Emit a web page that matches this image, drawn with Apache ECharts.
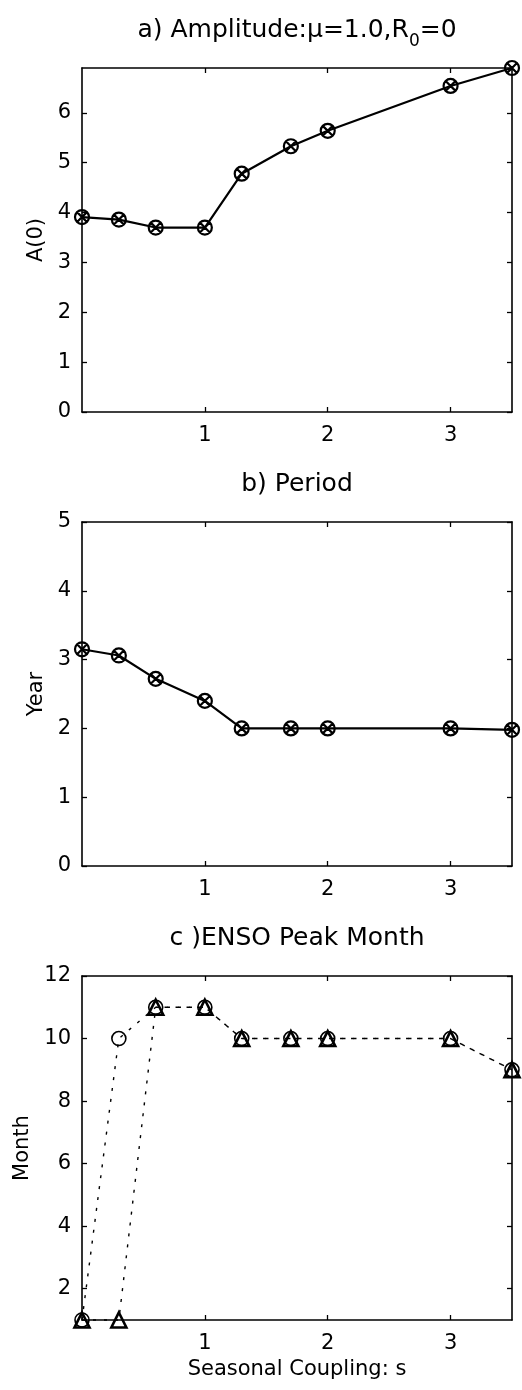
<!DOCTYPE html>
<html>
<head>
<meta charset="utf-8">
<script src="https://cdn.jsdelivr.net/npm/echarts@6/dist/echarts.min.js"></script>
<style>
  html, body { margin: 0; padding: 0; background: #fff; }
  #main { width: 522px; height: 1390px; }
</style>
</head>
<body>
<div id="main"></div>
<script>
// seasonal coupling s (x axis, shared by all three panels)
const sValues = [0, 0.3, 0.6, 1.0, 1.3, 1.7, 2.0, 3.0, 3.5]
// a) amplitude A(0)
const amplitude = [3.91, 3.86, 3.70, 3.70, 4.78, 5.33, 5.64, 6.54, 6.9]
// b) period in years
const period = [3.15, 3.06, 2.72, 2.40, 2.0, 2.0, 2.0, 2.0, 1.98]
// c) ENSO peak month, two estimates (circles / triangles)
const peakCircle = [1, 10, 11, 11, 10, 10, 10, 10, 9]
const peakTriangle = [1, 1, 11, 11, 10, 10, 10, 10, 9]

// tick labels
const sTicks = [1, 2, 3]
const ampTicks = [0, 1, 2, 3, 4, 5, 6]
const periodTicks = [0, 1, 2, 3, 4, 5]
const monthTicks = [2, 4, 6, 8, 10, 12]

const FONT = 'DejaVu Sans, Liberation Sans, Arial, sans-serif'
const GRID_LEFT = 82
const GRID_W = 430
const GRID_H = 344
const gridTops = [68, 522, 976]

// circle with a cross inside (matlab 'o' + 'x')
const OX = 'path://M0,10A10,10,0,1,1,20,10A10,10,0,1,1,0,10ZM2.93,2.93L17.07,17.07M17.07,2.93L2.93,17.07'

function pairs(ys) {
  return sValues.map((s, i) => [s, ys[i]])
}

function xAxes(gi, showName) {
  const base = {
    type: 'value',
    gridIndex: gi,
    min: 0,
    max: 3.5,
    splitLine: { show: false },
    axisLine: { show: true, onZero: false, lineStyle: { color: '#000', width: 1.6 } },
    axisTick: { show: true, inside: true, length: 5, customValues: sTicks, lineStyle: { color: '#000', width: 1.3 } },
  }
  return [
    Object.assign({}, base, {
      position: 'bottom',
      name: showName ? 'Seasonal Coupling: s' : '',
      nameLocation: 'middle',
      nameGap: 39,
      nameTextStyle: { fontFamily: FONT, fontSize: 21, color: '#000' },
      axisLabel: { customValues: sTicks, margin: 13, fontFamily: FONT, fontSize: 21, color: '#000' },
    }),
    Object.assign({}, base, { position: 'top', axisLabel: { show: false } }),
  ]
}

function yAxes(gi, min, max, ticks, name, gap) {
  const base = {
    type: 'value',
    gridIndex: gi,
    min: min,
    max: max,
    splitLine: { show: false },
    axisLine: { show: true, onZero: false, lineStyle: { color: '#000', width: 1.6 } },
    axisTick: { show: true, inside: true, length: 5, customValues: ticks, lineStyle: { color: '#000', width: 1.3 } },
  }
  return [
    Object.assign({}, base, {
      position: 'left',
      name: name,
      nameLocation: 'middle',
      nameGap: gap,
      nameTextStyle: { fontFamily: FONT, fontSize: 21, color: '#000' },
      axisLabel: { customValues: ticks, margin: 11, fontFamily: FONT, fontSize: 21, color: '#000' },
    }),
    Object.assign({}, base, { position: 'right', axisLabel: { show: false } }),
  ]
}

function titleAt(i, text) {
  return {
    text: text,
    left: GRID_LEFT + GRID_W / 2,
    top: gridTops[i] - 50,
    textAlign: 'center',
    padding: 0,
    textStyle: {
      fontFamily: FONT, fontSize: 25, fontWeight: 'normal', color: '#000',
      rich: {
        t: { fontFamily: FONT, fontSize: 25, color: '#000', lineHeight: 30, verticalAlign: 'top' },
        s: { fontFamily: FONT, fontSize: 17, color: '#000', lineHeight: 17, padding: [15, 0, 0, 0], verticalAlign: 'top' },
      },
    },
  }
}

const solidLine = (xi, data) => ({
  type: 'line',
  xAxisIndex: xi,
  yAxisIndex: xi,
  data: data,
  clip: false,
  symbol: OX,
  symbolSize: 14,
  symbolKeepAspect: true,
  lineStyle: { color: '#000', width: 2.2 },
  itemStyle: { color: 'transparent', borderColor: '#000', borderWidth: 2.2 },
  z: 3,
})

const dotted = (xi, data, symbol, size, bw) => ({
  type: 'line',
  xAxisIndex: xi,
  yAxisIndex: xi,
  data: data,
  clip: false,
  symbol: symbol,
  symbolSize: size,
  lineStyle: { color: '#000', width: 1.4, type: [3, 8] },
  itemStyle: { color: 'transparent', borderColor: '#000', borderWidth: bw },
  z: 3,
})

const chart = echarts.init(document.getElementById('main'), null, { renderer: 'canvas' })

chart.setOption({
  backgroundColor: '#fff',
  animation: false,
  title: [
    titleAt(0, '{t|a) Amplitude:μ=1.0,R}{s|0}{t|=0}'),
    titleAt(1, '{t|b) Period}'),
    titleAt(2, '{t|c )ENSO Peak Month}'),
  ],
  grid: gridTops.map(t => ({ left: GRID_LEFT, top: t, width: GRID_W, height: GRID_H, show: false })),
  xAxis: [].concat(xAxes(0, false), xAxes(1, false), xAxes(2, true)),
  yAxis: [].concat(
    yAxes(0, 0, 6.9, ampTicks, 'A(0)', 34),
    yAxes(1, 0, 5, periodTicks, 'Year', 34),
    yAxes(2, 1, 12, monthTicks, 'Month', 49)
  ),
  series: [
    solidLine(0, pairs(amplitude)),
    solidLine(2, pairs(period)),
    dotted(4, pairs(peakCircle), 'circle', 14, 1.6),
    dotted(4, pairs(peakTriangle), 'triangle', 15, 2.6),
  ],
})
</script>
</body>
</html>
